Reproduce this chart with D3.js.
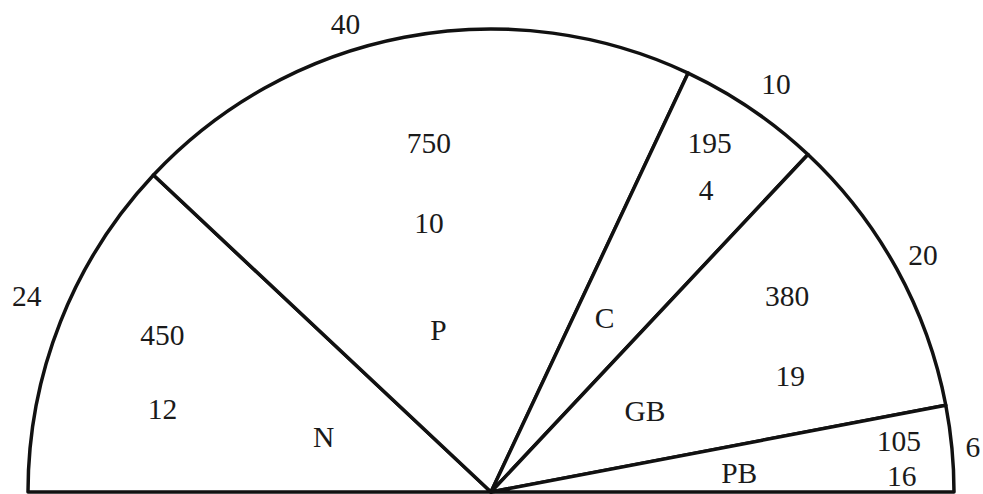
<!DOCTYPE html>
<html>
<head>
<meta charset="utf-8">
<script src="https://cdn.jsdelivr.net/npm/d3@7"></script>
<style>
  html, body { margin: 0; padding: 0; background: #fff; overflow: hidden; }
  text { font-family: "Liberation Serif", "DejaVu Serif", serif; fill: #1a1a1a; }
</style>
</head>
<body>
<script>
// semicircle split by share (outer numbers add up to 100)
const categories = ["N", "P", "C", "GB", "PB"];
const shares = [24, 40, 10, 20, 6];
const upperValues = [450, 750, 195, 380, 105];
const lowerValues = [12, 10, 4, 19, 16];

// where each label sits inside its slice: [fraction of slice angle, radius]
const placement = {
  share: [[0.53, 504], [0.41, 490], [0.54, 498], [0.5, 493], [0.51, 484]],
  upper: [[0.59, 364], [0.51, 355], [0.38, 412], [0.37, 355], [0.34, 411]],
  lower: [[0.33, 339], [0.47, 276], [0.57, 371], [0.71, 321], [0.79, 411]],
  name:  [[0.42, 176], [0.40, 170], [0.44, 208], [0.53, 174], [0.59, 249]]
};

const width = 983, height = 494;
const cx = 491, cy = 492, radius = 463;

const svg = d3.select('body').append('svg')
  .attr('width', width)
  .attr('height', height);

const g = svg.append('g').attr('transform', `translate(${cx},${cy})`);

const pie = d3.pie()
  .sort(null)
  .startAngle(-Math.PI / 2)
  .endAngle(Math.PI / 2);

const slices = pie(shares);

const arc = d3.arc().innerRadius(0).outerRadius(radius);

g.selectAll('path.slice')
  .data(slices)
  .enter().append('path')
  .attr('class', 'slice')
  .attr('d', arc)
  .attr('fill', '#fff')
  .attr('stroke', '#111')
  .attr('stroke-width', 3.5)
  .attr('stroke-linejoin', 'round');

// polar position inside a slice
const spot = (d, p) => {
  const a = d.startAngle + (d.endAngle - d.startAngle) * p[0];
  return [Math.sin(a) * p[1], -Math.cos(a) * p[1]];
};

const addLabels = (key, texts) => {
  g.selectAll(`text.${key}`)
    .data(slices)
    .enter().append('text')
    .attr('class', key)
    .attr('x', (d, i) => spot(d, placement[key][i])[0])
    .attr('y', (d, i) => spot(d, placement[key][i])[1])
    .attr('dy', '0.34em')
    .attr('text-anchor', 'middle')
    .attr('font-size', '29.5px')
    .text((d, i) => texts[i]);
};

addLabels('share', shares);
addLabels('upper', upperValues);
addLabels('lower', lowerValues);
addLabels('name', categories);
</script>
</body>
</html>
